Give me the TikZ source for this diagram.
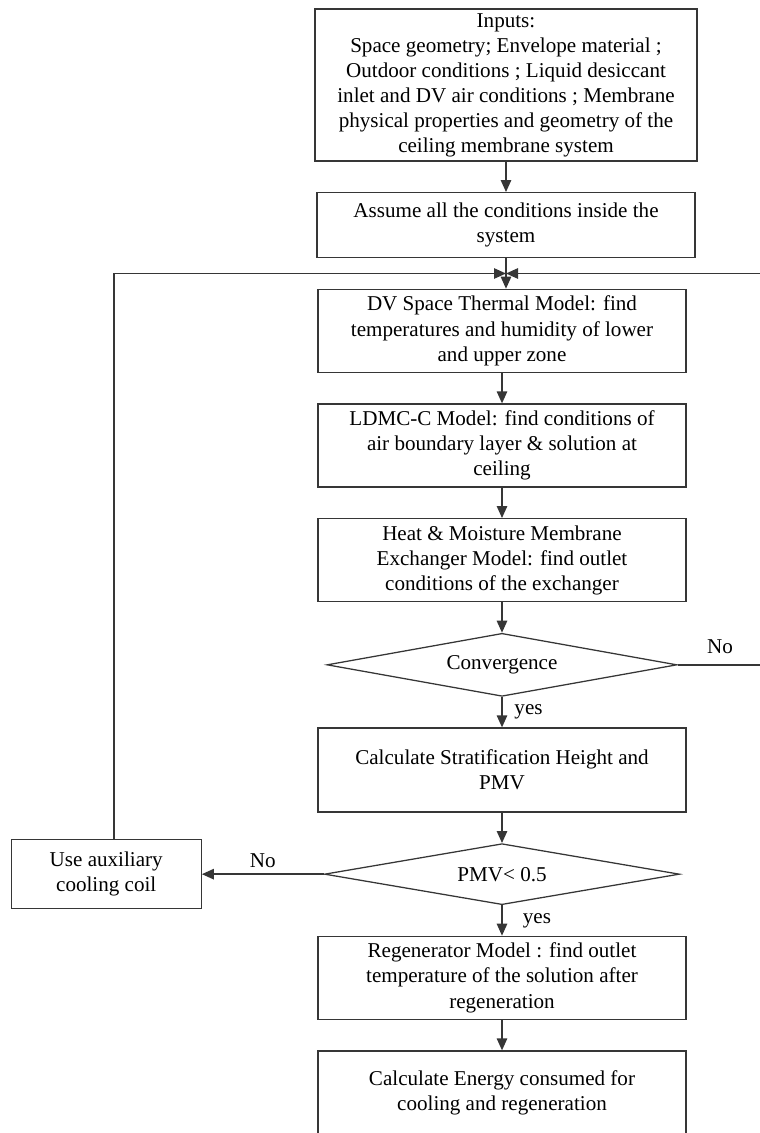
\documentclass[tikz,border=0pt]{standalone}
\usepackage{fontspec}
\setmainfont{Liberation Serif}
\usetikzlibrary{shapes.geometric, arrows.meta, positioning, calc}
\definecolor{FlowGray}{HTML}{363636}
\newcommand{\flowfont}{\fontsize{15}{17.8}\selectfont}

\begin{document}
\begin{tikzpicture}[node distance=0.76cm, >={Triangle[length=3mm,width=2.6mm]},
        box/.style={rectangle, draw=FlowGray, line width=0.9pt, fill=white, minimum width=9.2cm, minimum height=2.075cm, inner sep=2pt, align=center, font=\flowfont},
        decision/.style={diamond, draw=FlowGray, line width=0.9pt, fill=white, minimum width=8.75cm, minimum height=1.575cm, inner sep=0pt, aspect=5, font=\flowfont},
        arrow/.style={->, line width=1.1pt, FlowGray},
        lbl/.style={font=\flowfont, text=black}]

        \useasboundingbox (0,0) rectangle (19,-28.325);
        \clip (0,0) rectangle (19,-28.325);

        \node[box, minimum width=9.55cm, minimum height=3.8cm] (inputs) at (12.65,-2.125) {Inputs:\\ Space geometry; Envelope material ;\\ Outdoor conditions ; Liquid desiccant\\ inlet and DV air conditions ; Membrane\\ physical properties and geometry of the\\ ceiling membrane system};
        \node[box, minimum width=9.45cm, minimum height=1.625cm, below=of inputs] (assume) {Assume all the conditions inside the\\ system};
        \node[box, below=of assume, xshift=-1mm] (space) {DV Space Thermal Model: find\\ temperatures and humidity of lower\\ and upper zone};
        \node[box, below=of space] (ldmc) {LDMC-C Model: find conditions of\\ air boundary layer \& solution at\\ ceiling};
        \node[box, below=of ldmc] (exch) {Heat \& Moisture Membrane\\ Exchanger Model: find outlet\\ conditions of the exchanger};
        \node[decision, below=of exch] (conv) {Convergence};
        \node[box, minimum height=2.1cm, below=of conv] (strat) {Calculate Stratification Height and\\ PMV};
        \node[decision, minimum width=8.875cm, minimum height=1.525cm, below=of strat] (pmv) {PMV< 0.5};
        \node[box, minimum width=4.75cm, minimum height=1.725cm, left=3.05cm of pmv] (aux) {Use auxiliary\\ cooling coil};
        \node[box, below=of pmv] (regen) {Regenerator Model : find outlet\\ temperature of the solution after\\ regeneration};
        \node[box, minimum height=2.1cm, below=of regen] (energy) {Calculate Energy consumed for\\ cooling and regeneration};

        \coordinate (merge) at ($(assume.south)!0.5!(assume.south |- space.north)$);
        \coordinate (farright) at (19.4,0);

        \draw[arrow] (inputs) -- (assume);
        \draw[arrow] (assume) -- (assume.south |- space.north);
        \draw[arrow] (space) -- (ldmc);
        \draw[arrow] (ldmc) -- (exch);
        \draw[arrow] (exch) -- (conv);
        \draw[arrow] (conv) -- node[lbl, right=5pt] {yes} (strat);
        \draw[arrow] (strat) -- (pmv);
        \draw[arrow] (pmv) -- node[lbl, right=11pt] {yes} (regen);
        \draw[arrow] (regen) -- (energy);
        \draw[arrow] (pmv) -- node[lbl, above=1pt] {No} (aux);

        % loops back to the top
        \draw[arrow] ([xshift=2mm]aux.north) |- (merge);
        \draw[arrow] (conv.east) -- node[lbl, pos=0.43, above=4pt] {No} (conv.east -| farright) -- (merge -| farright) -- (merge);
    \end{tikzpicture}
\end{document}
